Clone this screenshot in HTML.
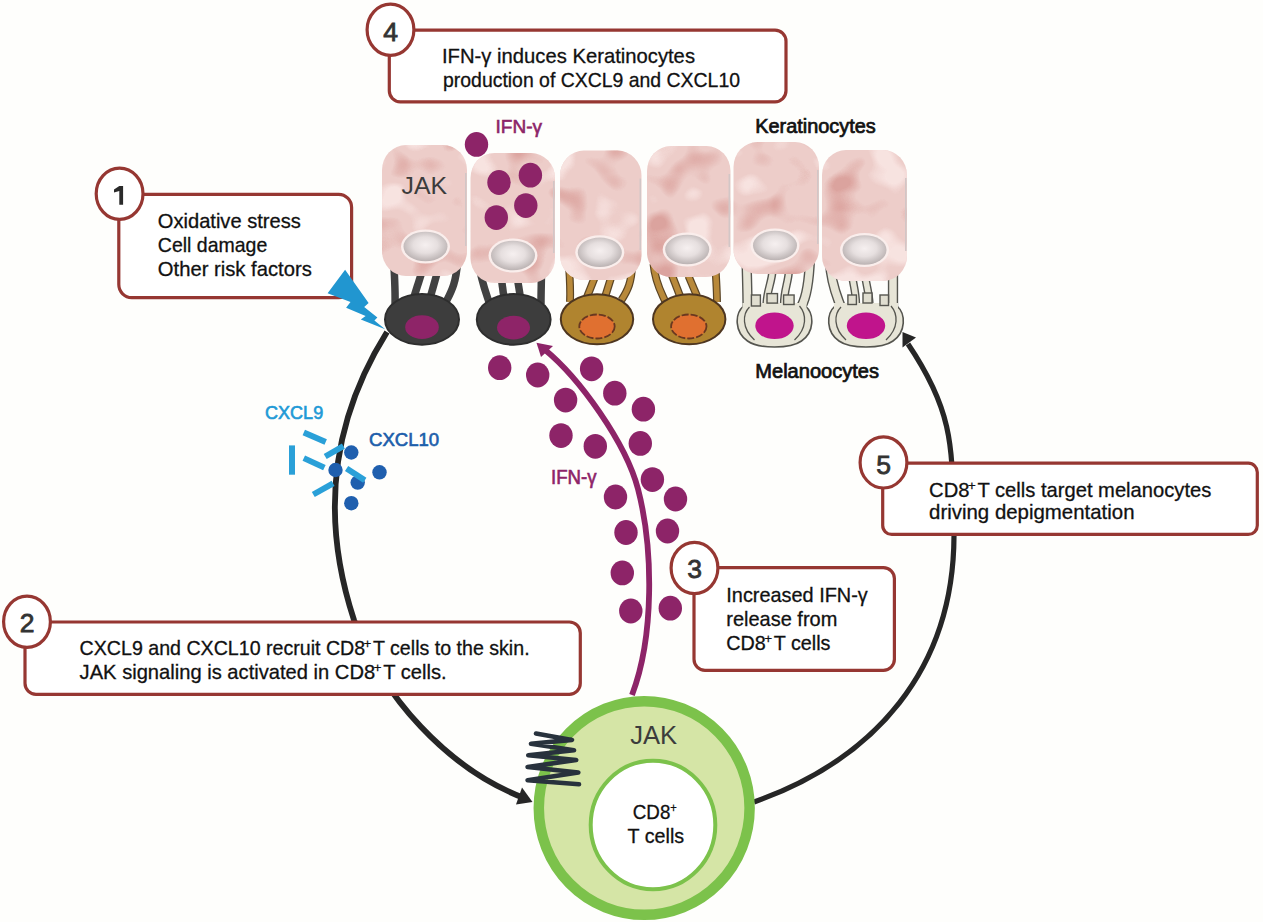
<!DOCTYPE html>
<html><head><meta charset="utf-8"><style>
html,body{margin:0;padding:0;background:#fefefc;}
svg{display:block;}
text{font-family:"Liberation Sans",sans-serif;}
</style></head><body>
<svg width="1263" height="922" viewBox="0 0 1263 922">
<defs>
<radialGradient id="nuc" cx="50%" cy="45%" r="55%">
<stop offset="0" stop-color="#f6f0f0"/><stop offset="0.5" stop-color="#e6dfdf"/><stop offset="1" stop-color="#bab2b2"/>
</radialGradient>
<filter id="mottle" x="0" y="0" width="100%" height="100%" color-interpolation-filters="sRGB">
<feTurbulence type="fractalNoise" baseFrequency="0.022 0.026" numOctaves="2" seed="5" result="noise"/>
<feColorMatrix in="noise" type="matrix" values="0 0 0 0 0.86  0 0 0 0 0.64  0 0 0 0 0.62  5 0 0 0 -2.8" result="dark"/>
<feColorMatrix in="noise" type="matrix" values="0 0 0 0 0.97  0 0 0 0 0.89  0 0 0 0 0.88  -7 0 0 0 3.0" result="light"/>
<feComposite in="dark" in2="SourceAlpha" operator="in" result="d2"/>
<feComposite in="light" in2="SourceAlpha" operator="in" result="l2"/>
<feMerge><feMergeNode in="SourceGraphic"/><feMergeNode in="d2"/><feMergeNode in="l2"/></feMerge>
</filter>
<linearGradient id="kshade" x1="0" y1="0" x2="0.3" y2="1">
<stop offset="0" stop-color="#efd2ce"/><stop offset="1" stop-color="#e4b7b2"/>
</linearGradient>
</defs>
<rect width="1263" height="922" fill="#fefefc"/>

<path d="M387.0,332.0 C330.1,422.8 320.6,518.4 354.0,620.0 C382.0,696.4 447.2,768.5 524.0,798.0" fill="none" stroke="#262626" stroke-width="5.8"/>
<polygon points="532.5,802 522,787.5 516,804.5" fill="#262626"/>
<path d="M754.0,802.0 C875.4,759.1 953.5,669.2 954.0,536.0 C951.7,451.8 956.8,416.3 908.0,344.0" fill="none" stroke="#262626" stroke-width="5.2"/>
<polygon points="902.5,332 916,337.5 902.5,347.5" fill="#262626"/>
<rect x="389.3" y="30.2" width="396.7" height="71.6" rx="11" fill="#ffffff" stroke="#963732" stroke-width="3.2"/>
<ellipse cx="390.5" cy="29.7" rx="23.4" ry="25.6" fill="#ffffff" stroke="#963732" stroke-width="3.2"/>
<text x="390.5" y="41.2" text-anchor="middle" font-size="26.5" fill="#333" stroke="#333" stroke-width="0.8">4</text>
<rect x="118.8" y="194.4" width="232.8" height="103.20000000000002" rx="13" fill="#ffffff" stroke="#963732" stroke-width="3.2"/>
<ellipse cx="119.6" cy="193.7" rx="23.4" ry="25.6" fill="#ffffff" stroke="#963732" stroke-width="3.2"/>
<path d="M119.3,186.0 L123.1,186.0 L123.1,204.79999999999998 L119.3,204.79999999999998 L119.3,190.89999999999998 L114.0,192.6 L114.0,189.5 Z" fill="#2a2a2a"/>
<rect x="25" y="622" width="555.3" height="72.29999999999995" rx="11" fill="#ffffff" stroke="#963732" stroke-width="3.2"/>
<ellipse cx="27" cy="621.8" rx="23.4" ry="25.6" fill="#ffffff" stroke="#963732" stroke-width="3.2"/>
<text x="27" y="631.8" text-anchor="middle" font-size="26.5" fill="#333" stroke="#333" stroke-width="0.8">2</text>
<rect x="694" y="567.6" width="200.39999999999998" height="102.69999999999993" rx="11" fill="#ffffff" stroke="#963732" stroke-width="3.2"/>
<ellipse cx="694.5" cy="568" rx="23.4" ry="25.6" fill="#ffffff" stroke="#963732" stroke-width="3.2"/>
<text x="694.5" y="578.3" text-anchor="middle" font-size="26.5" fill="#333" stroke="#333" stroke-width="0.8">3</text>
<rect x="882.7" y="463.2" width="374.5999999999999" height="71.19999999999999" rx="9" fill="#ffffff" stroke="#963732" stroke-width="3.2"/>
<ellipse cx="883.5" cy="462.4" rx="23.4" ry="25.6" fill="#ffffff" stroke="#963732" stroke-width="3.2"/>
<text x="883.5" y="473.59999999999997" text-anchor="middle" font-size="26.5" fill="#333" stroke="#333" stroke-width="0.8">5</text>
<text x="442" y="62.8" font-size="20.6" font-weight="normal" fill="#111" textLength="253" lengthAdjust="spacingAndGlyphs" stroke="#111" stroke-width="0.3">IFN-γ induces Keratinocytes</text>
<text x="443" y="86.9" font-size="20.6" font-weight="normal" fill="#111" textLength="297" lengthAdjust="spacingAndGlyphs" stroke="#111" stroke-width="0.3">production of CXCL9 and CXCL10</text>
<text x="157.8" y="227.7" font-size="20.6" font-weight="normal" fill="#111" textLength="143" lengthAdjust="spacingAndGlyphs" stroke="#111" stroke-width="0.3">Oxidative stress</text>
<text x="157.8" y="251.9" font-size="20.6" font-weight="normal" fill="#111" textLength="109.5" lengthAdjust="spacingAndGlyphs" stroke="#111" stroke-width="0.3">Cell damage</text>
<text x="157.8" y="275.7" font-size="20.6" font-weight="normal" fill="#111" textLength="154" lengthAdjust="spacingAndGlyphs" stroke="#111" stroke-width="0.3">Other risk factors</text>
<text x="79.6" y="654.8" font-size="20.6" font-weight="normal" fill="#111" textLength="450" lengthAdjust="spacingAndGlyphs" stroke="#111" stroke-width="0.3">CXCL9 and CXCL10 recruit CD8<tspan font-size="13.5" dy="-7" dx="-1.5">+</tspan><tspan dy="7" dx="1.8">T cells to the skin.</tspan></text>
<text x="79.6" y="678.9" font-size="20.6" font-weight="normal" fill="#111" textLength="367" lengthAdjust="spacingAndGlyphs" stroke="#111" stroke-width="0.3">JAK signaling is activated in CD8<tspan font-size="13.5" dy="-7" dx="-1.5">+</tspan><tspan dy="7" dx="1.8">T cells.</tspan></text>
<text x="726.3" y="601.5" font-size="20.6" font-weight="normal" fill="#111" textLength="141.5" lengthAdjust="spacingAndGlyphs" stroke="#111" stroke-width="0.3">Increased IFN-γ</text>
<text x="726.3" y="625.5" font-size="20.6" font-weight="normal" fill="#111" textLength="111" lengthAdjust="spacingAndGlyphs" stroke="#111" stroke-width="0.3">release from</text>
<text x="726.3" y="649.5" font-size="20.6" font-weight="normal" fill="#111" textLength="104.2" lengthAdjust="spacingAndGlyphs" stroke="#111" stroke-width="0.3">CD8<tspan font-size="13.5" dy="-7" dx="-1.5">+</tspan><tspan dy="7" dx="1.8">T cells</tspan></text>
<text x="929.1" y="496.8" font-size="20.6" font-weight="normal" fill="#111" textLength="282.2" lengthAdjust="spacingAndGlyphs" stroke="#111" stroke-width="0.3">CD8<tspan font-size="13.5" dy="-7" dx="-1.5">+</tspan><tspan dy="7" dx="1.8">T cells target melanocytes</tspan></text>
<text x="929.1" y="519.3" font-size="20.6" font-weight="normal" fill="#111" textLength="205.4" lengthAdjust="spacingAndGlyphs" stroke="#111" stroke-width="0.3">driving depigmentation</text>
<path d="M395,306 C395.5,290 394.5,275 393.5,258" fill="none" stroke="#414141" stroke-width="7.5" stroke-linecap="butt"/>
<path d="M413,300 L422.5,270" fill="none" stroke="#414141" stroke-width="7.5" stroke-linecap="butt"/>
<path d="M429.5,300 L438,270" fill="none" stroke="#414141" stroke-width="7.5" stroke-linecap="butt"/>
<path d="M446,302 C451,292 456,284 457.5,262" fill="none" stroke="#414141" stroke-width="7.5" stroke-linecap="butt"/>
<path d="M489,302 C485,290 481,280 478.5,262" fill="none" stroke="#414141" stroke-width="7.5" stroke-linecap="butt"/>
<path d="M504,298 L501,276" fill="none" stroke="#414141" stroke-width="7.5" stroke-linecap="butt"/>
<path d="M520.5,298 L517,276" fill="none" stroke="#414141" stroke-width="7.5" stroke-linecap="butt"/>
<path d="M541,304 C541,290 541.5,280 541.5,270" fill="none" stroke="#414141" stroke-width="7.5" stroke-linecap="butt"/>
<path d="M570,302 C570.5,290 570,280 569,266" fill="none" stroke="#5a4424" stroke-width="7.9" stroke-linecap="butt"/>
<path d="M570,302 C570.5,290 570,280 569,266" fill="none" stroke="#b8893a" stroke-width="5.5" stroke-linecap="butt"/>
<path d="M587,297 L594.5,278" fill="none" stroke="#5a4424" stroke-width="7.9" stroke-linecap="butt"/>
<path d="M587,297 L594.5,278" fill="none" stroke="#b8893a" stroke-width="5.5" stroke-linecap="butt"/>
<path d="M605,297 L611,278" fill="none" stroke="#5a4424" stroke-width="7.9" stroke-linecap="butt"/>
<path d="M605,297 L611,278" fill="none" stroke="#b8893a" stroke-width="5.5" stroke-linecap="butt"/>
<path d="M621.5,300 C628,290 631.5,282 632,266" fill="none" stroke="#5a4424" stroke-width="7.9" stroke-linecap="butt"/>
<path d="M621.5,300 C628,290 631.5,282 632,266" fill="none" stroke="#b8893a" stroke-width="5.5" stroke-linecap="butt"/>
<path d="M665,301 C661,292 655,282 653.5,264" fill="none" stroke="#5a4424" stroke-width="7.9" stroke-linecap="butt"/>
<path d="M665,301 C661,292 655,282 653.5,264" fill="none" stroke="#b8893a" stroke-width="5.5" stroke-linecap="butt"/>
<path d="M680,296 L671.5,274" fill="none" stroke="#5a4424" stroke-width="7.9" stroke-linecap="butt"/>
<path d="M680,296 L671.5,274" fill="none" stroke="#b8893a" stroke-width="5.5" stroke-linecap="butt"/>
<path d="M697,296 L688.5,276" fill="none" stroke="#5a4424" stroke-width="7.9" stroke-linecap="butt"/>
<path d="M697,296 L688.5,276" fill="none" stroke="#b8893a" stroke-width="5.5" stroke-linecap="butt"/>
<path d="M717,302 C717,290 716,280 715.5,266" fill="none" stroke="#5a4424" stroke-width="7.9" stroke-linecap="butt"/>
<path d="M717,302 C717,290 716,280 715.5,266" fill="none" stroke="#b8893a" stroke-width="5.5" stroke-linecap="butt"/>
<ellipse cx="422" cy="319.4" rx="37" ry="25.3" fill="#3d3d3d" stroke="#2e2e2e" stroke-width="2"/>
<ellipse cx="422" cy="327.2" rx="16.8" ry="11.9" fill="#8e2468"/>
<ellipse cx="513.7" cy="319.4" rx="36.9" ry="25.3" fill="#3d3d3d" stroke="#2e2e2e" stroke-width="2"/>
<ellipse cx="513.5" cy="327.6" rx="16.5" ry="11.9" fill="#8e2468"/>
<ellipse cx="597" cy="319.3" rx="36.2" ry="25" fill="#b0842f" stroke="#4e3620" stroke-width="2"/>
<ellipse cx="597" cy="326.5" rx="17.7" ry="12" fill="#e07030" stroke="#6a3820" stroke-width="1.8" stroke-dasharray="7 2"/>
<ellipse cx="689.2" cy="319.3" rx="36.2" ry="25" fill="#b0842f" stroke="#4e3620" stroke-width="2"/>
<ellipse cx="688.8" cy="326.5" rx="17.7" ry="12" fill="#e07030" stroke="#6a3820" stroke-width="1.8" stroke-dasharray="7 2"/>
<path d="M743.5,306 C734.5,314 734.5,332 747.5,341 C758.5,349 790.5,349 801.5,341 C814.5,332 814.5,314 805.5,306 Z" fill="#e7e5d7" stroke="#55554f" stroke-width="1.6"/>
<path d="M747.5,306 C747.5,292 747,280 746.5,258" fill="none" stroke="#55554f" stroke-width="10.3"/>
<path d="M772.5,270 C772,282 767,290 766.5,304" fill="none" stroke="#55554f" stroke-width="8.3"/>
<path d="M789,270 C788.5,282 784,290 784,304" fill="none" stroke="#55554f" stroke-width="8.3"/>
<path d="M801.5,306 C806,298 809,285 810,258" fill="none" stroke="#55554f" stroke-width="10.3"/>
<rect x="742.5" y="303" width="64" height="9" fill="#e7e5d7"/>
<path d="M747.5,306 C747.5,292 747,280 746.5,258" fill="none" stroke="#e7e5d7" stroke-width="7.5"/>
<path d="M772.5,270 C772,282 767,290 766.5,304" fill="none" stroke="#e7e5d7" stroke-width="5.5"/>
<path d="M789,270 C788.5,282 784,290 784,304" fill="none" stroke="#e7e5d7" stroke-width="5.5"/>
<path d="M801.5,306 C806,298 809,285 810,258" fill="none" stroke="#e7e5d7" stroke-width="7.5"/>
<rect x="751.4" y="295" width="9" height="11" fill="#e0ded0" stroke="#55554f" stroke-width="1.4"/>
<rect x="767" y="293.6" width="10.5" height="9.5" fill="#e0ded0" stroke="#55554f" stroke-width="1.4"/>
<rect x="783.6" y="295" width="10.5" height="9.5" fill="#e0ded0" stroke="#55554f" stroke-width="1.4"/>
<path d="M749.5,307 C742.5,314 741.5,328 754.5,340" fill="none" stroke="#55554f" stroke-width="1.3"/>
<path d="M799.5,306 C806.5,314 807.5,328 794.5,340" fill="none" stroke="#55554f" stroke-width="1.3"/>
<ellipse cx="774.5" cy="325.8" rx="19.2" ry="13.2" fill="#c0148c"/>
<path d="M835,306 C826,314 826,332 839,341 C850,349 882,349 893,341 C906,332 906,314 897,306 Z" fill="#e7e5d7" stroke="#55554f" stroke-width="1.6"/>
<path d="M840.5,306 C837,296 831,284 830,262" fill="none" stroke="#55554f" stroke-width="10.3"/>
<path d="M851.5,272 C853,284 856,292 856,304" fill="none" stroke="#55554f" stroke-width="8.3"/>
<path d="M864.5,272 C866,284 869,292 869.5,304" fill="none" stroke="#55554f" stroke-width="8.3"/>
<path d="M893,308 C893,295 893,283 893,266" fill="none" stroke="#55554f" stroke-width="10.3"/>
<rect x="834" y="303" width="64" height="9" fill="#e7e5d7"/>
<path d="M840.5,306 C837,296 831,284 830,262" fill="none" stroke="#e7e5d7" stroke-width="7.5"/>
<path d="M851.5,272 C853,284 856,292 856,304" fill="none" stroke="#e7e5d7" stroke-width="5.5"/>
<path d="M864.5,272 C866,284 869,292 869.5,304" fill="none" stroke="#e7e5d7" stroke-width="5.5"/>
<path d="M893,308 C893,295 893,283 893,266" fill="none" stroke="#e7e5d7" stroke-width="7.5"/>
<rect x="847.9" y="295" width="8.5" height="9.5" fill="#e0ded0" stroke="#55554f" stroke-width="1.4"/>
<rect x="863" y="293" width="9" height="10" fill="#e0ded0" stroke="#55554f" stroke-width="1.4"/>
<rect x="880" y="295" width="8.5" height="10.5" fill="#e0ded0" stroke="#55554f" stroke-width="1.4"/>
<path d="M841,307 C834,314 833,328 846,340" fill="none" stroke="#55554f" stroke-width="1.3"/>
<path d="M891,306 C898,314 899,328 886,340" fill="none" stroke="#55554f" stroke-width="1.3"/>
<ellipse cx="866" cy="325.8" rx="19.2" ry="13.2" fill="#c0148c"/>
<rect x="382" y="145" width="85" height="131" rx="24" ry="25" fill="#edcdc9" filter="url(#mottle)"/>
<line x1="465.8" y1="173" x2="465.8" y2="246" stroke="#d2c6c6" stroke-width="1.6"/>
<ellipse cx="425.5" cy="246.5" rx="24.5" ry="17" fill="#faeeec"/>
<ellipse cx="425.5" cy="246.5" rx="22" ry="14.8" fill="url(#nuc)"/>
<rect x="470.5" y="153" width="84.5" height="130" rx="24" ry="25" fill="#edcdc9" filter="url(#mottle)"/>
<line x1="553.8" y1="181" x2="553.8" y2="253" stroke="#d2c6c6" stroke-width="1.6"/>
<ellipse cx="513" cy="255.5" rx="24.5" ry="17" fill="#faeeec"/>
<ellipse cx="513" cy="255.5" rx="22" ry="14.8" fill="url(#nuc)"/>
<rect x="560" y="150.6" width="81.5" height="129.4" rx="24" ry="25" fill="#edcdc9" filter="url(#mottle)"/>
<line x1="640.3" y1="178.6" x2="640.3" y2="250" stroke="#d2c6c6" stroke-width="1.6"/>
<ellipse cx="599.8" cy="252.3" rx="24.5" ry="17" fill="#faeeec"/>
<ellipse cx="599.8" cy="252.3" rx="22" ry="14.8" fill="url(#nuc)"/>
<rect x="647" y="146" width="83.5" height="131" rx="24" ry="25" fill="#edcdc9" filter="url(#mottle)"/>
<line x1="729.3" y1="174" x2="729.3" y2="247" stroke="#d2c6c6" stroke-width="1.6"/>
<ellipse cx="687.2" cy="249.5" rx="24.5" ry="17" fill="#faeeec"/>
<ellipse cx="687.2" cy="249.5" rx="22" ry="14.8" fill="url(#nuc)"/>
<rect x="733.5" y="142" width="85.5" height="132" rx="24" ry="25" fill="#edcdc9" filter="url(#mottle)"/>
<line x1="817.8" y1="170" x2="817.8" y2="244" stroke="#d2c6c6" stroke-width="1.6"/>
<ellipse cx="775" cy="245.5" rx="24.5" ry="17" fill="#faeeec"/>
<ellipse cx="775" cy="245.5" rx="22" ry="14.8" fill="url(#nuc)"/>
<rect x="822" y="150" width="85" height="131" rx="24" ry="25" fill="#edcdc9" filter="url(#mottle)"/>
<line x1="905.8" y1="178" x2="905.8" y2="251" stroke="#d2c6c6" stroke-width="1.6"/>
<ellipse cx="864.5" cy="250" rx="24.5" ry="17" fill="#faeeec"/>
<ellipse cx="864.5" cy="250" rx="22" ry="14.8" fill="url(#nuc)"/>
<text x="755.3" y="132.6" font-size="19.5" font-weight="normal" fill="#111" textLength="120.5" lengthAdjust="spacingAndGlyphs" stroke="#111" stroke-width="0.7">Keratinocytes</text>
<text x="755.3" y="378.3" font-size="19.5" font-weight="normal" fill="#111" textLength="123.7" lengthAdjust="spacingAndGlyphs" stroke="#111" stroke-width="0.7">Melanoocytes</text>
<text x="401.5" y="194" font-size="24.5" font-weight="normal" fill="#3c3c3c" textLength="45.5" lengthAdjust="spacingAndGlyphs">JAK</text>
<path d="M632.0,695.0 C654.2,636.8 653.5,548.9 638.0,489.0 C625.9,442.9 579.7,378.1 544.0,349.0" fill="none" stroke="#8d2468" stroke-width="5.8"/>
<polygon points="536.5,342.7 553,346 541,357" fill="#8d2468"/>
<ellipse cx="476.5" cy="144.4" rx="11.7" ry="12.4" fill="#8d2468"/>
<ellipse cx="499" cy="182.5" rx="11.7" ry="12.4" fill="#8d2468"/>
<ellipse cx="530.4" cy="175.2" rx="11.7" ry="12.4" fill="#8d2468"/>
<ellipse cx="525.8" cy="205.6" rx="11.7" ry="12.4" fill="#8d2468"/>
<ellipse cx="496.3" cy="217.6" rx="11.7" ry="12.4" fill="#8d2468"/>
<ellipse cx="499.7" cy="367.7" rx="11.7" ry="12.4" fill="#8d2468"/>
<ellipse cx="537.7" cy="375" rx="11.7" ry="12.4" fill="#8d2468"/>
<ellipse cx="591.6" cy="368.8" rx="11.7" ry="12.4" fill="#8d2468"/>
<ellipse cx="565.6" cy="400.1" rx="11.7" ry="12.4" fill="#8d2468"/>
<ellipse cx="614.8" cy="393.2" rx="11.7" ry="12.4" fill="#8d2468"/>
<ellipse cx="643.4" cy="409.2" rx="11.7" ry="12.4" fill="#8d2468"/>
<ellipse cx="561" cy="435.6" rx="11.7" ry="12.4" fill="#8d2468"/>
<ellipse cx="595.3" cy="446.3" rx="11.7" ry="12.4" fill="#8d2468"/>
<ellipse cx="640.3" cy="443.4" rx="11.7" ry="12.4" fill="#8d2468"/>
<ellipse cx="652.4" cy="479.6" rx="11.7" ry="12.4" fill="#8d2468"/>
<ellipse cx="615.5" cy="497" rx="11.7" ry="12.4" fill="#8d2468"/>
<ellipse cx="675.5" cy="499" rx="11.7" ry="12.4" fill="#8d2468"/>
<ellipse cx="626" cy="532.5" rx="11.7" ry="12.4" fill="#8d2468"/>
<ellipse cx="667.5" cy="531" rx="11.7" ry="12.4" fill="#8d2468"/>
<ellipse cx="622.3" cy="572.9" rx="11.7" ry="12.4" fill="#8d2468"/>
<ellipse cx="630.8" cy="611" rx="11.7" ry="12.4" fill="#8d2468"/>
<ellipse cx="670.3" cy="608.2" rx="11.7" ry="12.4" fill="#8d2468"/>
<text x="495.5" y="133.2" font-size="19.2" font-weight="normal" fill="#8d2468" textLength="46.5" lengthAdjust="spacingAndGlyphs" stroke="#8d2468" stroke-width="0.6">IFN-γ</text>
<text x="551" y="484" font-size="19.5" font-weight="normal" fill="#8d2468" textLength="45.5" lengthAdjust="spacingAndGlyphs" stroke="#8d2468" stroke-width="0.6">IFN-γ</text>
<ellipse cx="644.2" cy="808" rx="105.4" ry="106.8" fill="#d5e5a6" stroke="#7cc24b" stroke-width="10.5"/>
<ellipse cx="653" cy="825" rx="62.3" ry="64.3" fill="#ffffff" stroke="#7cc24b" stroke-width="4"/>
<text x="630.2" y="744.3" font-size="25" font-weight="normal" fill="#3c3c3c" textLength="47" lengthAdjust="spacingAndGlyphs">JAK</text>
<text x="632.8" y="818.5" font-size="20.3" font-weight="normal" fill="#111" textLength="44" lengthAdjust="spacingAndGlyphs" stroke="#111" stroke-width="0.3">CD8<tspan font-size="12" dy="-6.5">+</tspan></text>
<text x="627.6" y="842.6" font-size="20.3" font-weight="normal" fill="#111" textLength="56.5" lengthAdjust="spacingAndGlyphs" stroke="#111" stroke-width="0.3">T cells</text>
<polyline points="536,733.6 572,739.9 531,743.7 574,750.3 528.3,755.2 576.2,760 527.6,767 578.3,772.5 527.6,780.2 579,784.3" fill="none" stroke="#28323d" stroke-width="4.6" stroke-linejoin="round" stroke-linecap="round"/>
<text x="265" y="419.3" font-size="17.5" font-weight="normal" fill="#1f9ad6" textLength="58.2" lengthAdjust="spacingAndGlyphs" stroke="#1f9ad6" stroke-width="0.6">CXCL9</text>
<text x="369" y="446.2" font-size="17.5" font-weight="normal" fill="#1c5eab" textLength="70.2" lengthAdjust="spacingAndGlyphs" stroke="#1c5eab" stroke-width="0.6">CXCL10</text>
<circle cx="351.3" cy="452.5" r="7.2" fill="#1f5fae"/>
<circle cx="335.5" cy="470" r="7.2" fill="#1f5fae"/>
<circle cx="357.7" cy="482.6" r="7.2" fill="#1f5fae"/>
<circle cx="379.5" cy="472.3" r="7.2" fill="#1f5fae"/>
<circle cx="351.3" cy="503.2" r="7.2" fill="#1f5fae"/>
<line x1="303.8" y1="432.4" x2="325.7" y2="441.9" stroke="#2aa0d8" stroke-width="6"/>
<line x1="292" y1="445.4" x2="292" y2="474.7" stroke="#2aa0d8" stroke-width="6"/>
<line x1="303.8" y1="458.1" x2="324.4" y2="467.6" stroke="#2aa0d8" stroke-width="6"/>
<line x1="325.2" y1="456.5" x2="343.4" y2="446.2" stroke="#2aa0d8" stroke-width="6"/>
<line x1="346.6" y1="468.4" x2="364.8" y2="480.3" stroke="#2aa0d8" stroke-width="6"/>
<line x1="313.3" y1="494.5" x2="333.1" y2="483.4" stroke="#2aa0d8" stroke-width="6"/>
<polygon points="345.1,269.8 368.6,303 364.2,306.9 377.4,317.6 374.4,320.5 385.2,329.3 360.8,319.5 365.6,316.1 346.1,307.8 350.5,302 327.6,293.2" fill="#2196d0"/>
</svg></body></html>
